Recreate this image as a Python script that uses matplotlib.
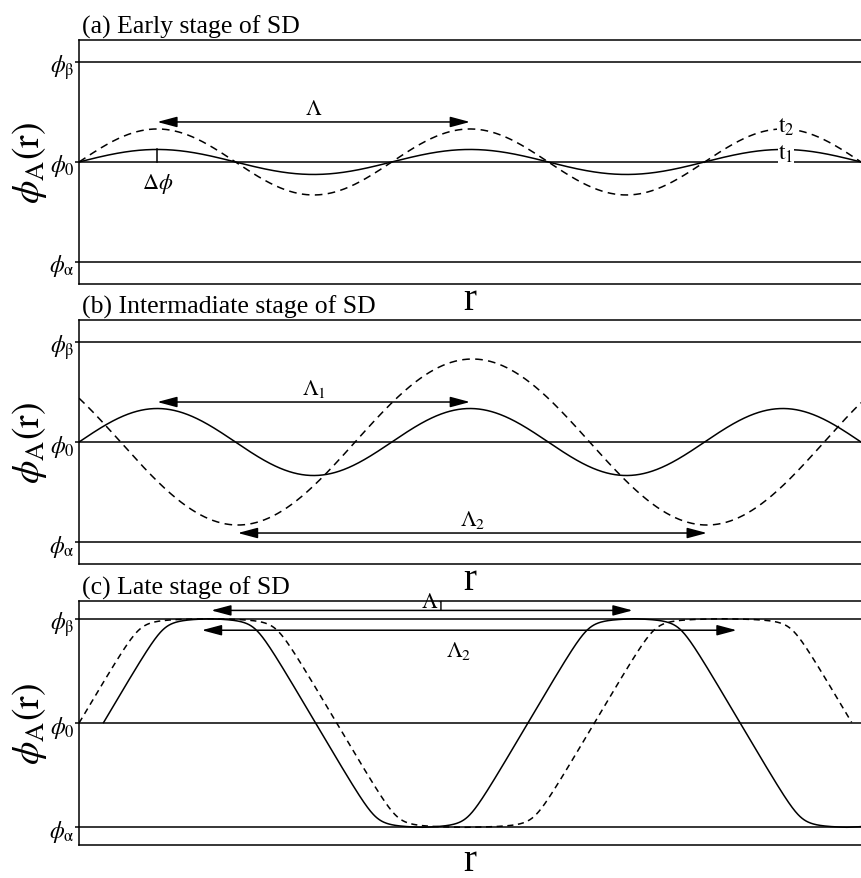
import numpy as np
import matplotlib.pyplot as plt

plt.rcParams['font.family'] = ['Liberation Serif', 'DejaVu Serif']
plt.rcParams['mathtext.fontset'] = 'stix'

LW = 1.1
DASH = (0, (5, 3.5))

# order parameter levels: phi_alpha, phi_0, phi_beta
levels = [-1.0, 0.0, 1.0]
level_labels = [r'$\phi_{\mathrm{\alpha}}$', r'$\phi_{\mathrm{0}}$', r'$\phi_{\mathrm{\beta}}$']
titles = ['(a) Early stage of SD', '(b) Intermadiate stage of SD', '(c) Late stage of SD']

# (a) early stage: small sine modulations at t1 and t2
waves_a = 2.5          # wavelengths across the box
amp_a = [0.125, 0.33]  # t1, t2

# (b) intermediate stage: two wavelengths
waves_b = [2.5, 1.667]
amp_b = [0.335, 0.83]
crest_b2 = 0.503       # crest of the long (dashed) wave

# (c) late stage: saturated profiles (solid, dashed)
period_c = [0.543, 0.659]
rise_c = [0.031, 0.0]      # where each profile crosses phi_0 going up
span_c = [(0.031, 1.0), (0.0, 0.9885)]
flank_c = 0.078            # box width per unit of phi on the flanks
corner_c = 0.22

# arrows (x0, x1, y) and their labels (x, y)
arrows_c = [(0.169, 0.708, 1.08), (0.157, 0.841, 0.89)]
arrow_labels_c = [(0.453, 1.17), (0.485, 0.70)]


def profile(x, period, x0):
    p = np.mod((x - x0) / period, 1.0)
    tri = np.where(p < 0.25, 4 * p, np.where(p < 0.75, 2 - 4 * p, 4 * p - 4))
    u = tri * (period / 4) / flank_c
    top = period / 4 / flank_c
    clamp = lambda v: 0.5 * (np.sqrt((v + 1) ** 2 + corner_c ** 2) - np.sqrt((v - 1) ** 2 + corner_c ** 2))
    return clamp(u) / clamp(top)


def arrow(ax, x0, x1, y):
    ax.annotate('', xy=(x1, y), xytext=(x0, y),
                arrowprops=dict(arrowstyle='<|-|>,head_length=0.6,head_width=0.16',
                                mutation_scale=20, lw=LW, color='k',
                                shrinkA=0, shrinkB=0))


fig = plt.figure(figsize=(8.61, 8.79), dpi=100)
bottoms = [0.6758, 0.3572, 0.0375]
axes = []
for i, b in enumerate(bottoms):
    ax = fig.add_axes([0.0918, b, 0.9082, 0.2776])
    ax.set_xlim(0, 1)
    lim = 1.17 if i == 2 else 1.22
    ax.set_ylim(-lim, lim)
    for v in levels:
        ax.axhline(v, color='k', lw=LW, zorder=1)
    ax.set_xticks([])
    ax.set_yticks(levels)
    ax.set_yticklabels(level_labels, fontsize=17)
    ax.tick_params(axis='y', direction='out', length=3, width=LW, pad=0)
    ax.spines['right'].set_visible(False)
    for s in ['left', 'top', 'bottom']:
        ax.spines[s].set_linewidth(LW)
    ax.set_xlabel('r', fontsize=28, labelpad=-2)
    ax.set_ylabel(r'$\phi_{\mathrm{A}}\mathrm{(r)}$', fontsize=27, labelpad=0)
    ax.text(0.004, 1.01, titles[i], transform=ax.transAxes, fontsize=18.5,
            ha='left', va='bottom')
    axes.append(ax)

x = np.linspace(0, 1, 1500)

# (a)
ax = axes[0]
ax.plot(x, amp_a[0] * np.sin(2 * np.pi * waves_a * x), color='k', lw=LW)
ax.plot(x, amp_a[1] * np.sin(2 * np.pi * waves_a * x), color='k', lw=LW, ls=DASH)
crest = 0.25 / waves_a
arrow(ax, crest, crest + 1 / waves_a, 0.40)
ax.text(crest + 0.5 / waves_a, 0.43, r'$\Lambda$', fontsize=16, ha='center', va='bottom')
ax.plot([crest, crest], [0, amp_a[0]], color='k', lw=LW)
ax.text(crest, -0.09, r'$\Delta\phi$', fontsize=16, ha='center', va='top')
last = 2.25 / waves_a
ax.text(last + 0.004, amp_a[1] + 0.03, r'$\mathrm{t}_2$', fontsize=17, ha='center', va='center',
        bbox=dict(fc='white', ec='none', pad=0.3))
ax.text(last + 0.004, amp_a[0] - 0.03, r'$\mathrm{t}_1$', fontsize=17, ha='center', va='center',
        bbox=dict(fc='white', ec='none', pad=0.3))

# (b)
ax = axes[1]
ax.plot(x, amp_b[0] * np.sin(2 * np.pi * waves_b[0] * x), color='k', lw=LW)
ax.plot(x, amp_b[1] * np.cos(2 * np.pi * waves_b[1] * (x - crest_b2)), color='k', lw=LW, ls=DASH)
c1 = 0.25 / waves_b[0]
arrow(ax, c1, c1 + 1 / waves_b[0], 0.40)
ax.text(c1 + 0.5 / waves_b[0], 0.43, r'$\Lambda_1$', fontsize=16, ha='center', va='bottom')
t2 = crest_b2 - 0.5 / waves_b[1]
arrow(ax, t2, t2 + 1 / waves_b[1], -0.91)
ax.text(t2 + 0.5 / waves_b[1], -0.88, r'$\Lambda_2$', fontsize=16, ha='center', va='bottom')

# (c)
ax = axes[2]
for k, style in enumerate(['-', (0, (4, 3))]):
    xs = x[(x >= span_c[k][0]) & (x <= span_c[k][1])]
    ax.plot(xs, profile(xs, period_c[k], rise_c[k]), color='k', lw=LW, ls=style)
for (x0, x1, y), (lx, ly), name in zip(arrows_c, arrow_labels_c, [r'$\Lambda_1$', r'$\Lambda_2$']):
    arrow(ax, x0, x1, y)
    ax.text(lx, ly, name, fontsize=16, ha='center', va='center')

fig.savefig('out.png', dpi=100)
